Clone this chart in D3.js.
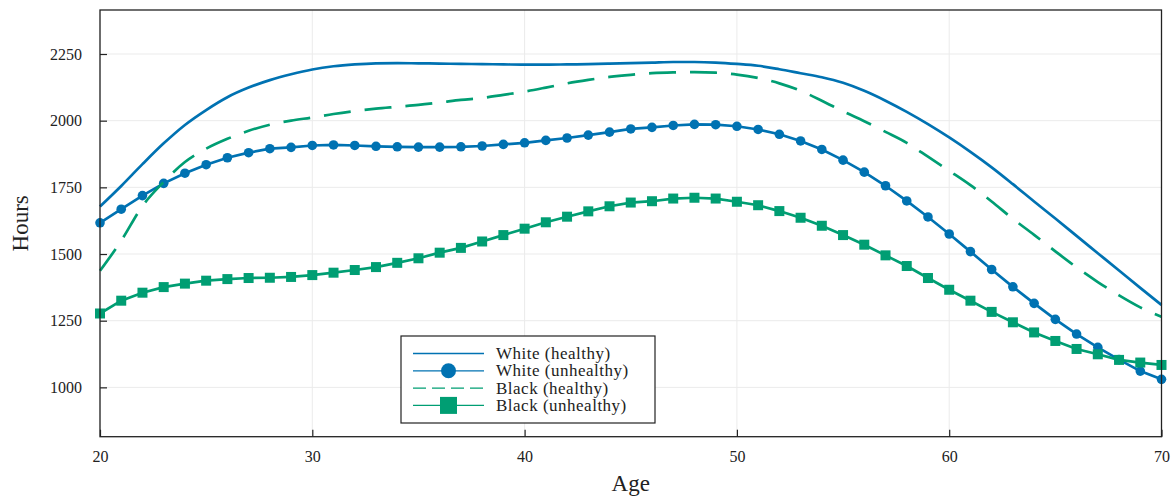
<!DOCTYPE html>
<html>
<head>
<meta charset="utf-8">
<script src="https://cdn.jsdelivr.net/npm/d3@7"></script>
<style>
  body { margin: 0; background: #fff; }
  text { font-family: "Liberation Serif", "Times New Roman", serif; fill: #222; }
</style>
</head>
<body>
<svg></svg>
<script>
var svg_width = 1176;
var svg_height = 500;

// DATA
var ages = d3.range(20, 71);
var whiteHealthy = [1678, 1755, 1837, 1915, 1984, 2040, 2088, 2124, 2152, 2174,
                    2192, 2204, 2211, 2215, 2216, 2215, 2214, 2213, 2212, 2211,
                    2210, 2210, 2211, 2212, 2214, 2216, 2218, 2220, 2220, 2218,
                    2213, 2206, 2193, 2178, 2163, 2142, 2112, 2075, 2033, 1987,
                    1937, 1883, 1825, 1762, 1697, 1633, 1568, 1503, 1438, 1373,
                    1309];
var whiteUnhealthy = [1617, 1668, 1719, 1765, 1803, 1835, 1861, 1880, 1895, 1900,
                      1907, 1909, 1907, 1904, 1902, 1901, 1901, 1902, 1905, 1911,
                      1917, 1926, 1935, 1946, 1957, 1969, 1975, 1982, 1986, 1985,
                      1979, 1967, 1949, 1924, 1892, 1852, 1807, 1756, 1699, 1639,
                      1575, 1509, 1442, 1377, 1315, 1255, 1200, 1150, 1104, 1061,
                      1030];
var blackHealthy = [1437, 1550, 1680, 1770, 1845, 1895, 1932, 1962, 1985, 2000,
                    2012, 2025, 2036, 2045, 2052, 2059, 2068, 2078, 2085, 2097,
                    2109, 2124, 2140, 2153, 2164, 2172, 2178, 2181, 2182, 2180,
                    2173, 2160, 2140, 2112, 2075, 2035, 1998, 1958, 1917, 1865,
                    1812, 1758, 1697, 1632, 1572, 1510, 1450, 1395, 1345, 1300,
                    1265];
var blackUnhealthy = [1277, 1325, 1355, 1376, 1389, 1400, 1406, 1410, 1411, 1414,
                      1421, 1430, 1440, 1451, 1467, 1484, 1505, 1523, 1547, 1571,
                      1595, 1619, 1640, 1660, 1679, 1693, 1698, 1708, 1711, 1708,
                      1696, 1683, 1661, 1636, 1606, 1571, 1535, 1495, 1455, 1410,
                      1366, 1325, 1283, 1244, 1206, 1174, 1144, 1124, 1103, 1093,
                      1084];
var xTicks = [20, 30, 40, 50, 60, 70];
var yTicks = [1000, 1250, 1500, 1750, 2000, 2250];
var seriesNames = ["White (healthy)", "White (unhealthy)", "Black (healthy)", "Black (unhealthy)"];

var blue = "#0072b2";
var green = "#009e73";

var series = [
  { name: seriesNames[0], values: whiteHealthy, color: blue, dash: null, marker: null },
  { name: seriesNames[1], values: whiteUnhealthy, color: blue, dash: null, marker: "circle" },
  { name: seriesNames[2], values: blackHealthy, color: green, dash: "27,14", marker: null },
  { name: seriesNames[3], values: blackUnhealthy, color: green, dash: null, marker: "square" }
];

// SCALES
var plotLeft = 100, plotRight = 1161.5, plotTop = 10, plotBottom = 436.7;

var xScale = d3.scaleLinear()
               .domain([20, 70])
               .range([plotLeft, plotRight]);

var yScale = d3.scaleLinear()
               .domain([815, 2415])
               .range([plotBottom, plotTop]);

var svg = d3.select("svg")
      .attr("width", svg_width)
      .attr("height", svg_height);

// GRID
svg.append("g")
    .selectAll("line")
    .data(xTicks)
    .enter()
    .append("line")
      .attr("x1", function(d) { return xScale(d); })
      .attr("x2", function(d) { return xScale(d); })
      .attr("y1", plotTop)
      .attr("y2", plotBottom)
      .attr("stroke", "#ebebeb")
      .attr("stroke-width", 1);

svg.append("g")
    .selectAll("line")
    .data(yTicks)
    .enter()
    .append("line")
      .attr("x1", plotLeft)
      .attr("x2", plotRight)
      .attr("y1", function(d) { return yScale(d); })
      .attr("y2", function(d) { return yScale(d); })
      .attr("stroke", "#ebebeb")
      .attr("stroke-width", 1);

// LINES
var line = d3.line()
             .x(function(d, i) { return xScale(ages[i]); })
             .y(function(d) { return yScale(d); });

var plot = svg.append("g");

series.forEach(function(s) {
  line.curve(s.marker ? d3.curveLinear : d3.curveMonotoneX);
  plot.append("path")
      .attr("d", line(s.values))
      .attr("fill", "none")
      .attr("stroke", s.color)
      .attr("stroke-width", 2.7)
      .attr("stroke-dasharray", s.dash);

  if (s.marker === "circle") {
    plot.append("g")
        .selectAll("circle")
        .data(s.values)
        .enter()
        .append("circle")
          .attr("cx", function(d, i) { return xScale(ages[i]); })
          .attr("cy", function(d) { return yScale(d); })
          .attr("r", 4.8)
          .attr("fill", s.color);
  }
  if (s.marker === "square") {
    plot.append("g")
        .selectAll("rect")
        .data(s.values)
        .enter()
        .append("rect")
          .attr("x", function(d, i) { return xScale(ages[i]) - 5; })
          .attr("y", function(d) { return yScale(d) - 5; })
          .attr("width", 10)
          .attr("height", 10)
          .attr("fill", s.color);
  }
});

// AXES
var xAxis = d3.axisBottom(xScale)
              .tickValues(xTicks)
              .tickFormat(d3.format("d"))
              .tickSize(-7)
              .tickSizeOuter(0)
              .tickPadding(14);
var yAxis = d3.axisLeft(yScale)
              .tickValues(yTicks)
              .tickFormat(d3.format("d"))
              .tickSize(-7)
              .tickSizeOuter(0)
              .tickPadding(18);

var gx = svg.append("g")
      .attr("transform", "translate(0, " + plotBottom + ")")
    .call(xAxis);
var gy = svg.append("g")
      .attr("transform", "translate(" + plotLeft + ", 0)")
    .call(yAxis);

[gx, gy].forEach(function(g) {
  g.select(".domain").remove();
  g.selectAll(".tick line").attr("stroke", "#222").attr("stroke-width", 1.2);
  g.selectAll(".tick text")
      .attr("font-family", "Liberation Serif, serif")
      .attr("font-size", 16)
      .attr("fill", "#222");
});

// FRAME
svg.append("rect")
    .attr("x", plotLeft)
    .attr("y", plotTop)
    .attr("width", plotRight - plotLeft)
    .attr("height", plotBottom - plotTop)
    .attr("fill", "none")
    .attr("stroke", "#222")
    .attr("stroke-width", 1.3);

// LEGEND
var legend = svg.append("g")
      .attr("transform", "translate(401, 336)");

legend.append("rect")
    .attr("width", 254)
    .attr("height", 87)
    .attr("fill", "#fff")
    .attr("stroke", "#222")
    .attr("stroke-width", 1.2);

var items = legend.selectAll("g.item")
    .data(series)
    .enter()
    .append("g")
      .attr("class", "item")
      .attr("transform", function(d, i) { return "translate(0, " + (17.5 + i * 17.3) + ")"; });

items.append("line")
    .attr("x1", 12)
    .attr("x2", 83)
    .attr("stroke", function(d) { return d.color; })
    .attr("stroke-width", 1.3)
    .attr("stroke-dasharray", function(d) { return d.dash ? "13,6" : null; });

items.filter(function(d) { return d.marker === "circle"; })
    .append("circle")
      .attr("cx", 47.5)
      .attr("r", 7.5)
      .attr("fill", blue);

items.filter(function(d) { return d.marker === "square"; })
    .append("rect")
      .attr("x", 39)
      .attr("y", -8.5)
      .attr("width", 17)
      .attr("height", 17)
      .attr("fill", green);

items.append("text")
    .attr("x", 95)
    .attr("dy", "0.33em")
    .attr("font-size", 17)
    .attr("letter-spacing", 0.5)
    .text(function(d) { return d.name; });

// AXES LABELS
svg.append("text")
    .attr("x", (plotLeft + plotRight) / 2)
    .attr("y", 491)
    .attr("font-size", 23)
    .style("text-anchor", "middle")
    .text("Age");

svg.append("text")
    .attr("transform", "rotate(-90)")
    .attr("x", -(plotTop + plotBottom) / 2)
    .attr("y", 28)
    .attr("font-size", 23)
    .style("text-anchor", "middle")
    .text("Hours");
</script>
</body>
</html>
